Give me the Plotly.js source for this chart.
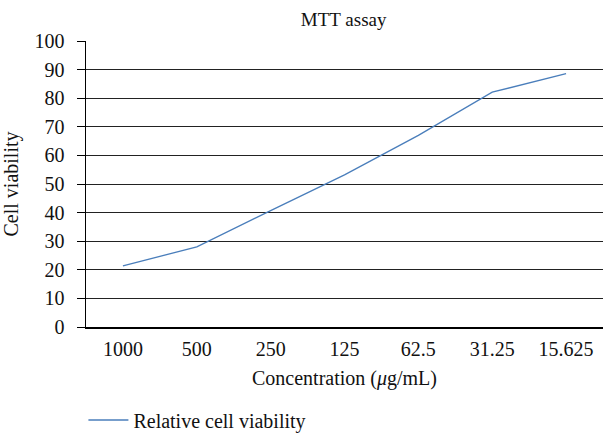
<!DOCTYPE html>
<html>
<head>
<meta charset="utf-8">
<script src="https://cdn.plot.ly/plotly-3.0.1.min.js"></script>
<style>
html, body { margin: 0; padding: 0; background: #fff; }
#chart { width: 603px; height: 433px; }
</style>
</head>
<body>
<div id="chart"></div>
<script>
var concentrations = ["1000", "500", "250", "125", "62.5", "31.25", "15.625"];
var viability = [21.4, 28, 40.7, 53.2, 67, 82.1, 88.6];
var yTicks = [0, 10, 20, 30, 40, 50, 60, 70, 80, 90, 100];

var FONT = "Liberation Serif, Times New Roman, serif";

var traces = [{
  x: concentrations,
  y: viability,
  type: "scatter",
  mode: "lines",
  name: "Relative cell viability",
  line: { color: "#4a7ebb", width: 1.3 }
}];

var layout = {
  width: 603,
  height: 433,
  margin: { l: 86, r: 0, t: 41, b: 106, autoexpand: false },
  paper_bgcolor: "#ffffff",
  plot_bgcolor: "#ffffff",
  font: { family: FONT, size: 20, color: "#111111" },
  title: {
    text: "MTT assay",
    font: { family: FONT, size: 19, color: "#111111" },
    x: 0.57, xanchor: "center",
    yref: "container", y: 0.955, yanchor: "middle"
  },
  xaxis: {
    type: "category",
    range: [-0.5, 6.5],
    showline: true,
    linecolor: "#000000",
    linewidth: 1.5,
    showgrid: false,
    ticks: "",
    tickfont: { family: FONT, size: 20, color: "#111111" },
    ticklabelstandoff: 3,
    title: { text: "Concentration (<i>μ</i>g/mL)", font: { family: FONT, size: 20, color: "#111111" }, standoff: 12 },
    automargin: false,
    fixedrange: true
  },
  yaxis: {
    range: [0, 100],
    tickvals: yTicks,
    ticktext: yTicks.map(String),
    showline: true,
    linecolor: "#000000",
    linewidth: 1.5,
    showgrid: true,
    gridcolor: "#222222",
    gridwidth: 1,
    zeroline: false,
    ticks: "outside",
    ticklen: 8,
    tickcolor: "#000000",
    tickwidth: 1,
    tickfont: { family: FONT, size: 20, color: "#111111" },
    ticklabelstandoff: 8,
    title: { text: "Cell viability", font: { family: FONT, size: 20, color: "#111111" }, standoff: 10 },
    automargin: false,
    fixedrange: true
  },
  showlegend: true,
  legend: {
    orientation: "h",
    xref: "paper", x: -0.005, xanchor: "left",
    yref: "container", y: 0.03, yanchor: "middle",
    itemwidth: 40,
    font: { family: FONT, size: 20, color: "#111111" },
    bgcolor: "rgba(0,0,0,0)"
  }
};

Plotly.newPlot("chart", traces, layout, { displayModeBar: false, staticPlot: true });
</script>
</body>
</html>
